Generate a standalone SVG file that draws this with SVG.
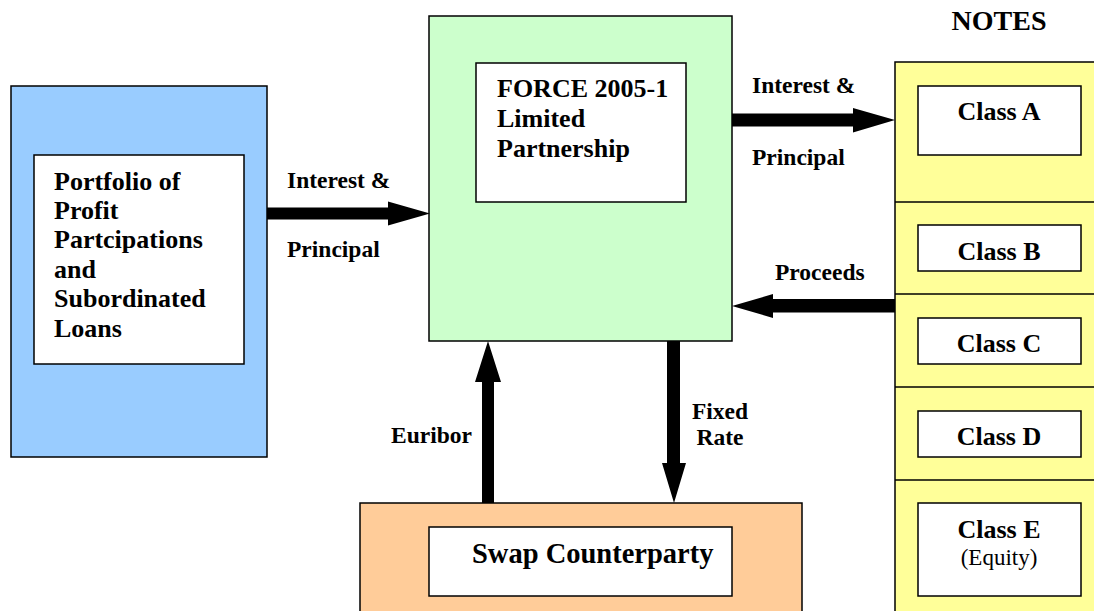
<svg xmlns="http://www.w3.org/2000/svg" width="1094" height="611" viewBox="0 0 1094 611">
<style>
.box{stroke:#000;stroke-width:1.5}
.inner{fill:#fff;stroke:#000;stroke-width:1.5}
.t{font-family:"Liberation Serif","Times New Roman",serif;font-weight:bold;fill:#000}
.n{font-size:26px}
.l{font-size:23.5px}
.c{text-anchor:middle}
.arrow{fill:#000}
</style>
<rect width="1094" height="611" fill="#fff"/>
<g id="portfolio">
<rect class="box" x="11" y="86" width="256" height="371" fill="#99CCFF"/>
<rect class="inner" x="34" y="155" width="210" height="209"/>
<text class="t n" x="54" y="190">Portfolio of</text>
<text class="t n" x="54" y="219">Profit</text>
<text class="t n" x="54" y="248">Partcipations</text>
<text class="t n" x="54" y="278">and</text>
<text class="t n" x="54" y="307">Subordinated</text>
<text class="t n" x="54" y="337">Loans</text>
</g>
<g id="force">
<rect class="box" x="429" y="16" width="303" height="325" fill="#CCFFCC"/>
<rect class="inner" x="476" y="63" width="210" height="139"/>
<text class="t n" x="497" y="97">FORCE 2005-1</text>
<text class="t n" x="497" y="127">Limited</text>
<text class="t n" x="497" y="157">Partnership</text>
</g>
<g id="notes">
<text class="t" x="999" y="30" font-size="28" text-anchor="middle">NOTES</text>
<rect class="box" x="895" y="62" width="210" height="560" fill="#FFFF99"/>
<line x1="895" y1="202" x2="1094" y2="202" stroke="#000" stroke-width="1.5"/>
<line x1="895" y1="294" x2="1094" y2="294" stroke="#000" stroke-width="1.5"/>
<line x1="895" y1="387" x2="1094" y2="387" stroke="#000" stroke-width="1.5"/>
<line x1="895" y1="480" x2="1094" y2="480" stroke="#000" stroke-width="1.5"/>
</g>
<g id="classA">
<rect class="inner" x="918" y="86" width="163" height="69"/>
<text class="t n c" x="999" y="120">Class A</text>
</g>
<g id="classB">
<rect class="inner" x="918" y="225" width="163" height="46"/>
<text class="t n c" x="999" y="260">Class B</text>
</g>
<g id="classC">
<rect class="inner" x="918" y="318" width="163" height="46"/>
<text class="t n c" x="999" y="352">Class C</text>
</g>
<g id="classD">
<rect class="inner" x="918" y="411" width="163" height="46"/>
<text class="t n c" x="999" y="445">Class D</text>
</g>
<g id="classE">
<rect class="inner" x="918" y="503" width="163" height="93"/>
<text class="t n c" x="999" y="538">Class E</text>
<text x="999" y="565" font-family="Liberation Serif,Times New Roman,serif" font-size="23" text-anchor="middle">(Equity)</text>
</g>
<g id="swap">
<rect class="box" x="360" y="503" width="442" height="130" fill="#FFCC99"/>
<rect class="inner" x="429" y="527" width="303" height="69"/>
<text class="t" x="472" y="563" font-size="28.5">Swap Counterparty</text>
</g>
<g id="connectors">
<polygon class="arrow" points="267,207.5 388,207.5 388,201.5 430,213.5 388,225.5 388,219.5 267,219.5"/>
<polygon class="arrow" points="732,113.5 853,113.5 853,108 895,120 853,132.5 853,126.5 732,126.5"/>
<polygon class="arrow" points="895,299 773,299 773,294 732,306 773,318 773,312.5 895,312.5"/>
<polygon class="arrow" points="482,503 482,382 475,382 488,341 501,382 494,382 494,503"/>
<polygon class="arrow" points="667,341 680,341 680,463 686,463 674,503 662,463 667,463"/>
<text class="t l" x="287" y="188">Interest &amp;</text>
<text class="t l" x="287" y="257">Principal</text>
<text class="t l" x="752" y="93">Interest &amp;</text>
<text class="t l" x="752" y="165">Principal</text>
<text class="t l" x="775" y="280">Proceeds</text>
<text class="t l" x="391" y="443">Euribor</text>
<text class="t l c" x="720" y="419">Fixed</text>
<text class="t l c" x="720" y="445">Rate</text>
</g>
</svg>
